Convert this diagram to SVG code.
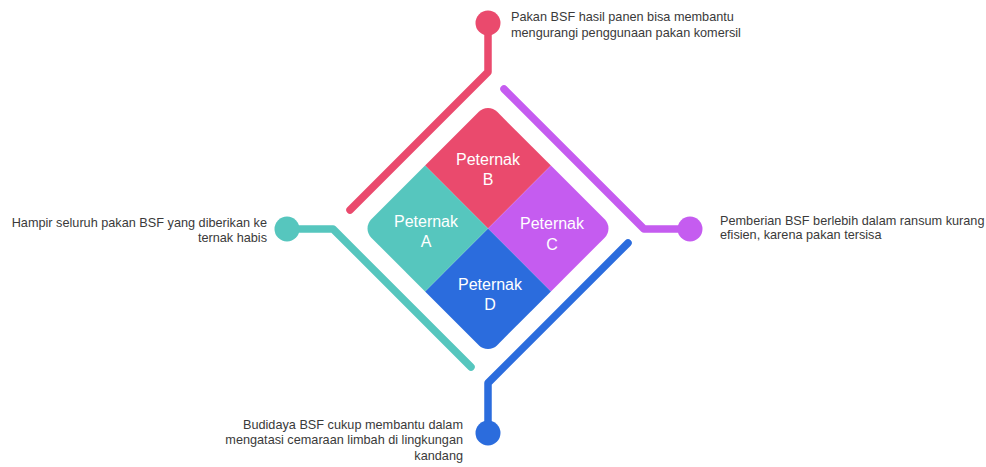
<svg xmlns="http://www.w3.org/2000/svg" width="986" height="467" viewBox="0 0 986 467">
<style>
.lbl{font-family:"Liberation Sans",Arial,sans-serif;font-size:12.7px;fill:#3a3a3a}
.q{font-family:"Liberation Sans",Arial,sans-serif;font-size:16px;fill:#ffffff;text-anchor:middle}
.ln{fill:none;stroke-width:7.5;stroke-linecap:round;stroke-linejoin:round}
.pink{stroke:#EA4A6D}.teal{stroke:#56C6BE}.purple{stroke:#C55CF0}.blue{stroke:#2B6CDD}
</style>
<rect width="986" height="467" fill="#ffffff"/>
<g id="connectors">
<path class="ln pink" d="M350 210 L488 72 L488 24"/>
<circle cx="488" cy="23" r="12.5" fill="#EA4A6D"/>
<path class="ln purple" d="M504 89 L644 229 L689 229"/>
<circle cx="690" cy="229" r="12.5" fill="#C55CF0"/>
<path class="ln blue" d="M628 243 L488 383 L488 432"/>
<circle cx="488" cy="433" r="12.5" fill="#2B6CDD"/>
<path class="ln teal" d="M471 367 L333 229 L288 229"/>
<circle cx="287" cy="229" r="12.5" fill="#56C6BE"/>
</g>
<g id="nodeB">
<path transform="translate(488,228.5) rotate(45)" d="M-89 -76 A13 13 0 0 1 -76 -89 L0 -89 L0 0 L-89 0 Z" fill="#EA4A6D"/>
<text class="q" x="488" y="165">Peternak</text>
<text class="q" x="488" y="185">B</text>
</g>
<g id="nodeC">
<path transform="translate(488,228.5) rotate(45)" d="M0 -89 L76 -89 A13 13 0 0 1 89 -76 L89 0 L0 0 Z" fill="#C55CF0"/>
<text class="q" x="552" y="229">Peternak</text>
<text class="q" x="552" y="250">C</text>
</g>
<g id="nodeD">
<path transform="translate(488,228.5) rotate(45)" d="M0 0 L89 0 L89 76 A13 13 0 0 1 76 89 L0 89 Z" fill="#2B6CDD"/>
<text class="q" x="490" y="290">Peternak</text>
<text class="q" x="490" y="310">D</text>
</g>
<g id="nodeA">
<path transform="translate(488,228.5) rotate(45)" d="M-89 0 L0 0 L0 89 L-76 89 A13 13 0 0 1 -89 76 Z" fill="#56C6BE"/>
<text class="q" x="426" y="227">Peternak</text>
<text class="q" x="426" y="247">A</text>
</g>
<g id="textPink">
<text class="lbl" x="511" y="21">Pakan BSF hasil panen bisa membantu</text>
<text class="lbl" x="511" y="37">mengurangi penggunaan pakan komersil</text>
</g>
<g id="textPurple">
<text class="lbl" x="720" y="225">Pemberian BSF berlebih dalam ransum kurang</text>
<text class="lbl" x="720" y="239">efisien, karena pakan tersisa</text>
</g>
<g id="textTeal">
<text class="lbl" x="267" y="227" text-anchor="end">Hampir seluruh pakan BSF yang diberikan ke</text>
<text class="lbl" x="267" y="242" text-anchor="end">ternak habis</text>
</g>
<g id="textBlue">
<text class="lbl" x="463" y="429" text-anchor="end">Budidaya BSF cukup membantu dalam</text>
<text class="lbl" x="463" y="444" text-anchor="end">mengatasi cemaraan limbah di lingkungan</text>
<text class="lbl" x="463" y="460" text-anchor="end">kandang</text>
</g>
</svg>
